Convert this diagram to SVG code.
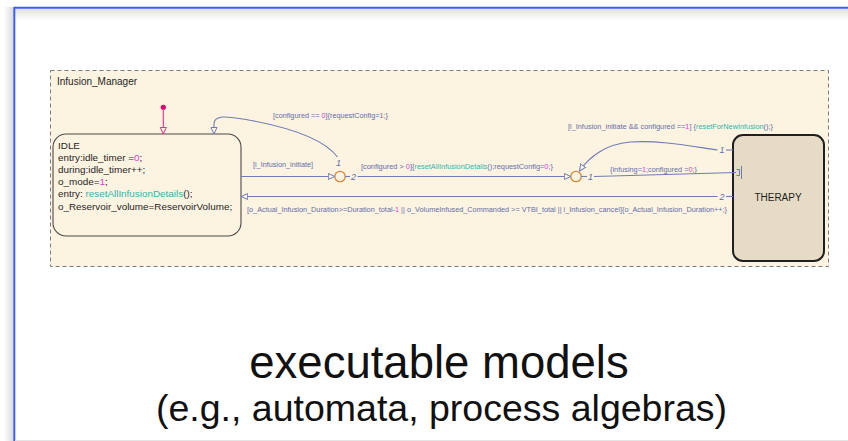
<svg xmlns="http://www.w3.org/2000/svg" width="848" height="441" viewBox="0 0 848 441">
  <defs>
    <linearGradient id="shadeTop" x1="0" y1="0" x2="0" y2="1">
      <stop offset="0" stop-color="#e2e2e2"/>
      <stop offset="1" stop-color="#ffffff"/>
    </linearGradient>
    <linearGradient id="shadeLeft" x1="1" y1="0" x2="0" y2="0">
      <stop offset="0" stop-color="#dcdcdc"/>
      <stop offset="1" stop-color="#ffffff"/>
    </linearGradient>
    <marker id="arr" markerWidth="9" markerHeight="8" refX="7" refY="4" orient="auto" markerUnits="userSpaceOnUse">
      <path d="M0.5,1 L7,4 L0.5,7 Z" fill="#fdf3e1" stroke="#6f7cb4" stroke-width="1"/>
    </marker>
    <marker id="arrInit" markerWidth="9" markerHeight="8" refX="7" refY="4" orient="auto" markerUnits="userSpaceOnUse">
      <path d="M0.5,1 L7,4 L0.5,7 Z" fill="#fdf3e1" stroke="#e8308a" stroke-width="1"/>
    </marker>
    <style>
      .lbl { font-family: "Liberation Sans", Arial, sans-serif; font-size: 7.2px; fill: #5f6ea8; }
      .num { fill: #e23ad8; }
      .fn { fill: #2fb4ae; }
      .st { font-family: "Liberation Sans", Arial, sans-serif; font-size: 9.9px; fill: #1e1e1e; }
      .idx { font-family: "Liberation Sans", Arial, sans-serif; font-size: 9px; font-style: italic; fill: #5f6ea8; }
      .wire { fill: none; stroke: #6f7cb4; stroke-width: 1.1; }
      .junc { fill: #fdf3e1; stroke: #d48a3a; stroke-width: 1.3; }
      .big { font-family: "Liberation Sans", Arial, sans-serif; fill: #111; text-anchor: middle; }
    </style>
  </defs>

  <!-- page background and slide frame -->
  <rect x="0" y="0" width="848" height="441" fill="#ffffff"/>
  <rect x="4" y="7" width="9" height="434" fill="url(#shadeLeft)"/>
  <rect x="15" y="9" width="833" height="12" fill="url(#shadeTop)"/>
  <line x1="14" y1="7.7" x2="848" y2="7.7" stroke="#3b5cf2" stroke-width="2"/>
  <line x1="14.3" y1="7" x2="14.3" y2="441" stroke="#3b5cf2" stroke-width="2"/>
  <line x1="15" y1="440.5" x2="848" y2="440.5" stroke="#e4e4e4" stroke-width="1"/>

  <!-- chart container -->
  <g id="Infusion_Manager">
    <rect x="50.5" y="70.5" width="778" height="196" fill="#fdf3e1" stroke="#7a7a7a" stroke-width="1" stroke-dasharray="4,3"/>
    <text x="57" y="85" font-family="Liberation Sans, Arial, sans-serif" font-size="10" fill="#1e1e1e">Infusion_Manager</text>
  </g>

  <!-- states -->
  <g id="IDLE">
    <rect x="53" y="134" width="188" height="102" rx="13" ry="13" fill="#fdf3e1" stroke="#4a4a4a" stroke-width="1.1"/>
    <text class="st" x="58" y="148.5">IDLE</text>
    <text class="st" x="58" y="160.5">entry:idle_timer =<tspan class="num">0</tspan>;</text>
    <text class="st" x="58" y="172.8">during:idle_timer++;</text>
    <text class="st" x="58" y="185.1">o_mode=<tspan class="num">1</tspan>;</text>
    <text class="st" x="58" y="197.4">entry: <tspan class="fn">resetAllInfusionDetails</tspan>();</text>
    <text class="st" x="58" y="209.7">o_Reservoir_volume=ReservoirVolume;</text>
  </g>

  <g id="THERAPY">
    <rect x="733" y="135" width="91" height="126" rx="10" ry="10" fill="#e6dbc4" stroke="#1f1f1f" stroke-width="2"/>
    <text x="778" y="200.5" font-family="Liberation Sans, Arial, sans-serif" font-size="10" fill="#1e1e1e" text-anchor="middle">THERAPY</text>
  </g>

  <!-- junctions -->
  <g id="junction1">
    <circle class="junc" cx="340" cy="176.5" r="5.2"/>
  </g>
  <g id="junction2">
    <circle class="junc" cx="576" cy="176.5" r="5.2"/>
  </g>

  <!-- transitions -->
  <g id="connectors">
    <!-- default transition into IDLE -->
    <circle cx="163.3" cy="107.3" r="2.6" fill="#e0006e"/>
    <line x1="163.3" y1="109" x2="163.3" y2="134" stroke="#e8308a" stroke-width="1.1" marker-end="url(#arrInit)"/>

    <!-- IDLE to junction 1 -->
    <line class="wire" x1="241" y1="176.5" x2="334.8" y2="176.5" marker-end="url(#arr)"/>
    <text class="lbl" x="253" y="166.5" textLength="60" lengthAdjust="spacingAndGlyphs">[i_Infusion_initiate]</text>

    <!-- junction 1, branch 1: back to IDLE -->
    <path class="wire" d="M337.5,157 C324,139 288,127 246,119.5 C226,116 214,115 214,124 L214,134" marker-end="url(#arr)"/>
    <text class="idx" x="338.5" y="165.5" text-anchor="middle">1</text>
    <text class="lbl" x="273" y="118" textLength="115" lengthAdjust="spacingAndGlyphs">[configured == <tspan class="num">0</tspan>]{requestConfig=<tspan class="num">1</tspan>;}</text>

    <!-- junction 1, branch 2: to junction 2 -->
    <line class="wire" x1="345.2" y1="176.5" x2="350" y2="176.5"/>
    <text class="idx" x="351" y="180">2</text>
    <line class="wire" x1="357.5" y1="176.5" x2="570.8" y2="176.5" marker-end="url(#arr)"/>
    <text class="lbl" x="361" y="169" textLength="192" lengthAdjust="spacingAndGlyphs">[configured &gt; <tspan class="num">0</tspan>]{<tspan class="fn">resetAllInfusionDetails</tspan>();requestConfig=<tspan class="num">0</tspan>;}</text>

    <!-- junction 2, branch 1: into THERAPY -->
    <line class="wire" x1="581.2" y1="176.5" x2="587" y2="176.5"/>
    <text class="idx" x="588" y="180">1</text>
    <path class="wire" d="M594,176.5 L630,175.5 L736,172.5"/>
    <path d="M736.5,169.5 L739.5,169.5 L739.5,175.5 L736.5,175.5" fill="none" stroke="#6f7cb4" stroke-width="1"/>
    <line x1="741.5" y1="166" x2="741.5" y2="179" stroke="#6f7cb4" stroke-width="1"/>
    <text class="lbl" x="610" y="171.5" textLength="87" lengthAdjust="spacingAndGlyphs">{infusing=<tspan class="num">1</tspan>;configured =<tspan class="num">0</tspan>;}</text>

    <!-- THERAPY outgoing 1: back to junction 2 -->
    <line class="wire" x1="726" y1="150" x2="733" y2="150"/>
    <text class="idx" x="722" y="153.2" text-anchor="middle">1</text>
    <path class="wire" d="M717.5,150 C690,146 660,140 630,142 C606,144 589,157 579.5,171" marker-end="url(#arr)"/>
    <text class="lbl" x="568" y="129" textLength="205" lengthAdjust="spacingAndGlyphs">[i_Infusion_initiate &amp;&amp; configured ==<tspan class="num">1</tspan>] {<tspan class="fn">resetForNewInfusion</tspan>();}</text>

    <!-- THERAPY outgoing 2: back to IDLE -->
    <line class="wire" x1="726" y1="196.5" x2="733" y2="196.5"/>
    <text class="idx" x="722" y="199.7" text-anchor="middle">2</text>
    <line class="wire" x1="717.5" y1="196.5" x2="241.2" y2="196.5" marker-end="url(#arr)"/>
    <text class="lbl" x="247" y="212" textLength="480" lengthAdjust="spacingAndGlyphs">[o_Actual_Infusion_Duration&gt;=Duration_total-<tspan class="num">1</tspan> || o_VolumeInfused_Commanded &gt;= VTBI_total || i_Infusion_cancel]{o_Actual_Infusion_Duration++;}</text>
  </g>

  <!-- caption -->
  <text class="big" x="439" y="378" font-size="45.5">executable models</text>
  <text class="big" x="441.5" y="421" font-size="37.5">(e.g., automata, process algebras)</text>
</svg>
